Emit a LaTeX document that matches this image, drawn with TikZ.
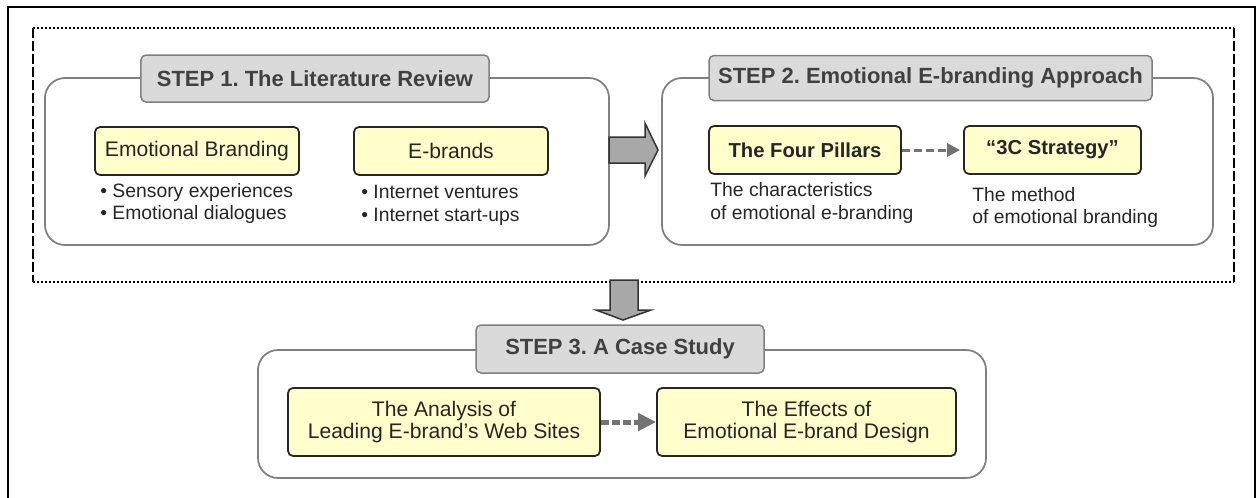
\documentclass[tikz,border=0pt]{standalone}
\usepackage{fontspec}
\setmainfont{Liberation Sans}
\usepackage{tikz}
\usetikzlibrary{arrows.meta}
\frenchspacing

\definecolor{boxyellow}{HTML}{FFFFCC}
\definecolor{labelgray}{HTML}{DADADA}
\definecolor{framegray}{HTML}{808080}
\definecolor{arrowgray}{HTML}{A8A8A8}

\tikzset{
	stepframe/.style={draw=framegray, line width=0.35mm, rounded corners=4mm},
	steplabel/.style={draw=framegray, fill=labelgray, line width=0.3mm, rounded corners=1mm, inner sep=0pt,
		text=black!75, font=\fontsize{12.5}{15}\selectfont\bfseries},
	topicbox/.style={draw=black!85, fill=boxyellow, line width=0.35mm, rounded corners=1mm, inner sep=0pt,
		align=center, text=black!85},
	notetext/.style={anchor=west, align=left, inner sep=0pt, text=black!85, font=\fontsize{11}{13}\selectfont},
	dasharrow/.style={draw=black!55, -{Triangle[length=2.6mm, width=2.6mm]}, line width=0.6mm,
		dash pattern=on 1.6mm off 0.8mm},
	blockarrow/.style={draw=black!80, fill=arrowgray, line width=0.3mm}
}

\begin{document}
\begin{tikzpicture}[x=0.2mm, y=-0.2mm]
			%%%%% START %%%%%
			\useasboundingbox (0,0) rectangle (1257,497);
			
			% outer frame, open at the bottom
			\draw[line width=0.4mm] (8,500) -- (8,7) -- (1255,7) -- (1255,500);
			
			% dotted box round steps 1 and 2
			\draw[line width=0.45mm, dash pattern=on 0.3mm off 0.5mm] (33,28) -- (1234,28);
			\draw[line width=0.45mm, dash pattern=on 0.3mm off 0.5mm] (33,282) -- (1234,282);
			\draw[line width=0.35mm, dash pattern=on 2mm off 0.6mm] (33,28) -- (33,282);
			\draw[line width=0.35mm, dash pattern=on 2mm off 0.6mm] (1234,28) -- (1234,282);
			
			% step frames
			\draw[stepframe] (45,78) rectangle (609,245);
			\draw[stepframe] (662,78) rectangle (1213,245);
			\draw[stepframe] (258,350) rectangle (986,478);
			
			% block arrows
			\draw[blockarrow] (609,137) -- (645,137) -- (645,123) -- (658,150) -- (645,176) -- (645,163) -- (609,163) -- cycle;
			\draw[blockarrow] (610,280) -- (638,280) -- (638,310) -- (651,310) -- (623,320) -- (596,310) -- (610,310) -- cycle;
			
			% STEP 1
			\node[steplabel, minimum width=69.6mm, minimum height=9.4mm] (lbl1) at (315,78.5) {STEP 1. The Literature Review};
			\node[topicbox, minimum width=40.8mm, minimum height=9.6mm, font=\fontsize{12}{14}\selectfont] (embrand) at (197,151) {Emotional Branding};
			\node[topicbox, minimum width=38.8mm, minimum height=9.6mm, font=\fontsize{12}{14}\selectfont] (ebrands) at (451,151) {E-brands};
			\node[notetext] (emnotes) at (100,203.5) {\textbullet\ Sensory experiences\\\textbullet\ Emotional dialogues};
			\node[notetext] (ebnotes) at (361,205) {\textbullet\ Internet ventures\\\textbullet\ Internet start-ups};
			
			% STEP 2
			\node[steplabel, minimum width=88.6mm, minimum height=9mm] (lbl2) at (930.5,78) {STEP 2. Emotional E-branding Approach};
			\node[topicbox, minimum width=38.4mm, minimum height=9.6mm, font=\fontsize{11.5}{14}\selectfont\bfseries] (pillars) at (805,150) {The Four Pillars};
			\node[topicbox, minimum width=35.4mm, minimum height=9.6mm, font=\fontsize{11.5}{14}\selectfont\bfseries] (strategy) at (1052.5,150) {“3C Strategy”};
			\node[notetext] (pinotes) at (710,203) {The characteristics\\of emotional e-branding};
			\node[notetext] (stnotes) at (972,207.5) {The method\\of emotional branding};
			\draw[dasharrow, shorten >=0.6mm] (pillars) -- (strategy);
			
			% STEP 3
			\node[steplabel, minimum width=57.6mm, minimum height=9.6mm] (lbl3) at (620,349) {STEP 3. A Case Study};
			\node[topicbox, minimum width=62.4mm, minimum height=13.6mm, font=\fontsize{12}{13}\selectfont] (analysis) at (444,422) {The Analysis of\\Leading E-brand’s Web Sites};
			\node[topicbox, minimum width=59.8mm, minimum height=13.6mm, font=\fontsize{12}{13}\selectfont] (effects) at (806.5,422) {The Effects of\\Emotional E-brand Design};
			\draw[dasharrow, line width=1mm, dash pattern=on 1.6mm off 0.6mm, -{Triangle[length=3.6mm, width=3.4mm]}] (analysis) -- (effects);
			
			%%%%% END %%%%%
		\end{tikzpicture}
\end{document}
